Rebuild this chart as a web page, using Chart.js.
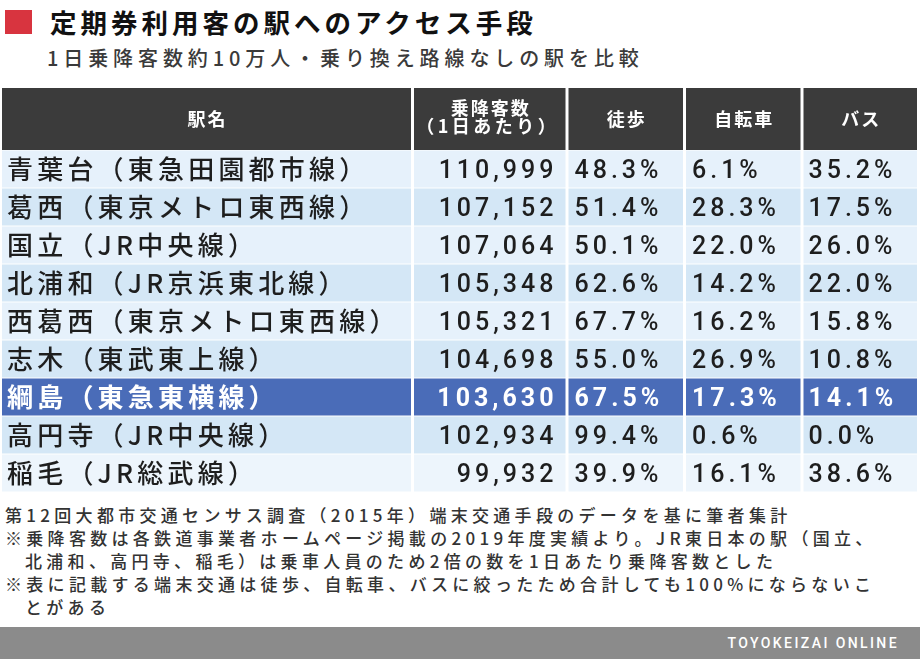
<!DOCTYPE html>
<html lang="ja">
<head>
<meta charset="utf-8">
<script src="https://cdn.jsdelivr.net/npm/chart.js@4.4.1/dist/chart.umd.min.js"></script>
<style>
  html, body { margin:0; padding:0; background:#fff; }
  body { width:920px; height:659px; position:relative; overflow:hidden; font-family:"Noto Sans CJK JP","Noto Sans",sans-serif; }
  #mark { position:absolute; left:5px; top:10px; width:27px; height:24px; background:#d8343f; }
  #title { position:absolute; left:50px; top:9px; font-size:26.5px; line-height:26px; font-weight:bold; letter-spacing:4px; color:#111; white-space:nowrap; }
  #subtitle { position:absolute; left:47px; top:48px; font-size:20px; line-height:20px; letter-spacing:4.9px; color:#3a3a3a; font-weight:500; white-space:nowrap; }
  #wrap { position:absolute; left:0; top:88px; width:920px; height:404px; }
  #notes { position:absolute; left:5px; top:503px; font-size:17px; line-height:23px; letter-spacing:4.3px; color:#333; font-weight:500; white-space:nowrap; }
  #notes .ind { padding-left:20px; }
  #footer { position:absolute; left:0; top:627px; width:920px; height:32px; background:#8b8b8b; }
  #footer span { position:absolute; right:21px; top:8px; font-family:Roboto,"Noto Sans",sans-serif; font-size:14px; line-height:16px; letter-spacing:2.4px; color:#fff; font-weight:500; }
</style>
</head>
<body>
<div id="mark"></div>
<div id="title">定期券利用客の駅へのアクセス手段</div>
<div id="subtitle">1日乗降客数約10万人・乗り換え路線なしの駅を比較</div>
<div id="wrap"><canvas id="c" width="920" height="404"></canvas></div>
<div id="notes">第12回大都市交通センサス調査（2015年）端末交通手段のデータを基に筆者集計<br>※乗降客数は各鉄道事業者ホームページ掲載の2019年度実績より。JR東日本の駅（国立、<br><span class="ind">北浦和、高円寺、稲毛）は乗車人員のため2倍の数を1日あたり乗降客数とした</span><br>※表に記載する端末交通は徒歩、自転車、バスに絞ったため合計しても100%にならないこ<br><span class="ind">とがある</span></div>
<div id="footer"><span>TOYOKEIZAI ONLINE</span></div>
<script>
// ---- data ----
const stations = ['青葉台（東急田園都市線）','葛西（東京メトロ東西線）','国立（JR中央線）','北浦和（JR京浜東北線）','西葛西（東京メトロ東西線）','志木（東武東上線）','綱島（東急東横線）','高円寺（JR中央線）','稲毛（JR総武線）'];
const counts = [110999, 107152, 107064, 105348, 105321, 104698, 103630, 102934, 99932];
const walk = [48.3, 51.4, 50.1, 62.6, 67.7, 55.0, 67.5, 99.4, 39.9];
const bike = [6.1, 28.3, 22.0, 14.2, 16.2, 26.9, 17.3, 0.6, 16.1];
const bus = [35.2, 17.5, 26.0, 22.0, 15.8, 10.8, 14.1, 0.0, 38.6];
const headers = [['駅名'], ['乗降客数', '（1日あたり）'], ['徒歩'], ['自転車'], ['バス']];
const highlightStation = '綱島（東急東横線）';

// ---- layout / style ----
const colEdges = [2, 412.5, 567, 684.5, 802, 917];
const GAP = 3;
const COLORS = { header:'#3b3b3b', odd:'#e6f1fb', even:'#d4e7f6', last:'#edf5fc', hi:'#4a6cb8', text:'#1e1e1e', white:'#fff' };
const CJK = '"Noto Sans CJK JP","Noto Sans",sans-serif';
const NUM = 'Roboto,"Noto Sans",sans-serif';

function fmtCount(v){ return v.toLocaleString('en-US'); }
function fmtPct(v){ return v.toFixed(1) + '%'; }

const tablePlugin = {
  id: 'tablePlugin',
  beforeDatasetsDraw(chart) {
    const ctx = chart.ctx;
    const ys = chart.scales.y;
    const area = chart.chartArea;
    const rowH = Math.abs(ys.getPixelForValue(1) - ys.getPixelForValue(0));
    const cellX = i => [colEdges[i] + (i > 0 ? GAP/2 : 0), colEdges[i+1] - (i < colEdges.length - 2 ? GAP/2 : 0)];
    ctx.save();
    // header
    for (let c = 0; c < headers.length; c++) {
      const [x0, x1] = cellX(c);
      ctx.fillStyle = COLORS.header;
      ctx.fillRect(x0, 0, x1 - x0, area.top);
      ctx.fillStyle = COLORS.white;
      ctx.font = 'bold 18px ' + CJK;
      ctx.textAlign = 'center';
      ctx.textBaseline = 'alphabetic';
      const lines = headers[c];
      const cx = (x0 + x1) / 2 + 1;
      if (lines.length === 1) {
        ctx.letterSpacing = '2px';
        ctx.fillText(lines[0], cx, 38);
      } else {
        ctx.letterSpacing = '2px';
        ctx.fillText(lines[0], cx, 27);
        ctx.letterSpacing = '3.5px';
        ctx.fillText(lines[1], cx - 3, 45);
      }
    }
    // rows
    const labels = chart.data.labels;
    const data = chart.data.datasets[0].data;
    for (let r = 0; r < labels.length; r++) {
      const yc = ys.getPixelForValue(r);
      const top = yc - rowH / 2;
      const hi = labels[r] === highlightStation;
      let bg = r % 2 === 0 ? COLORS.odd : COLORS.even;
      if (r === labels.length - 1) bg = COLORS.last;
      if (hi) bg = COLORS.hi;
      const txt = hi ? COLORS.white : COLORS.text;
      for (let c = 0; c < headers.length; c++) {
        const [x0, x1] = cellX(c);
        ctx.fillStyle = bg;
        ctx.fillRect(x0, top + 0.5, x1 - x0, rowH - 1);
      }
      const base = yc + 9.5;
      ctx.fillStyle = txt;
      ctx.textBaseline = 'alphabetic';
      // name
      ctx.font = (hi ? 'bold ' : '500 ') + '26px ' + CJK;
      ctx.letterSpacing = '4.2px';
      ctx.textAlign = 'left';
      ctx.fillText(labels[r], cellX(0)[0] + 5, base);
      // numbers
      ctx.font = (hi ? 'bold ' : '500 ') + '25px ' + NUM;
      ctx.letterSpacing = '4px';
      ctx.textAlign = 'right';
      ctx.fillText(fmtCount(data[r]), cellX(1)[1] - 8, base - 1);
      ctx.textAlign = 'left';
      ctx.fillText(fmtPct(walk[r]), cellX(2)[0] + 6, base - 1);
      ctx.fillText(fmtPct(bike[r]), cellX(3)[0] + 6, base - 1);
      ctx.fillText(fmtPct(bus[r]), cellX(4)[0] + 5, base - 1);
    }
    ctx.restore();
  }
};

new Chart(document.getElementById('c'), {
  type: 'bar',
  data: {
    labels: stations,
    datasets: [{ label: '乗降客数', data: counts, backgroundColor: 'rgba(0,0,0,0)', borderWidth: 0 }]
  },
  options: {
    indexAxis: 'y',
    responsive: false,
    animation: false,
    layout: { padding: { top: 62, left: 0, right: 0, bottom: 0 } },
    scales: {
      x: { display: false, min: 0 },
      y: { display: false, offset: true }
    },
    plugins: { legend: { display: false }, tooltip: { enabled: false }, title: { display: false } }
  },
  plugins: [tablePlugin]
});
</script>
</body>
</html>
